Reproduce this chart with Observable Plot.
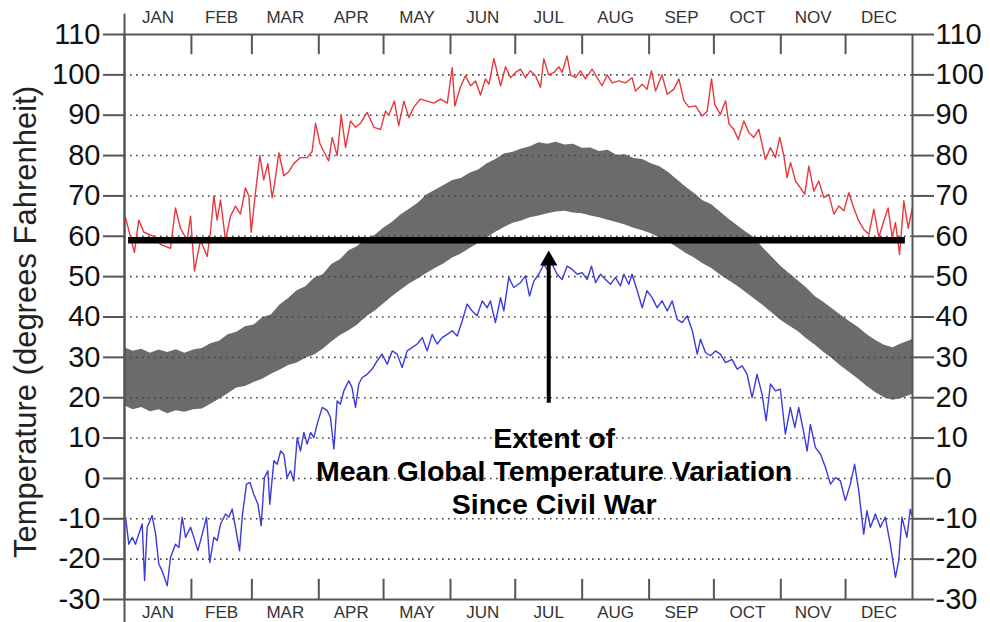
<!DOCTYPE html>
<html><head><meta charset="utf-8">
<script src="https://cdn.jsdelivr.net/npm/d3@7"></script>
<script src="https://cdn.jsdelivr.net/npm/@observablehq/plot@0.6"></script>
<style>body{margin:0;background:#fff}#chart svg{display:block}</style>
</head><body><div id="chart"></div>
<script>
const monthNames = ["JAN","FEB","MAR","APR","MAY","JUN","JUL","AUG","SEP","OCT","NOV","DEC"];
const monthStarts = [0,31,59,90,120,151,181,212,243,273,304,334,365];
const yTicks = [-30,-20,-10,0,10,20,30,40,50,60,70,80,90,100,110];
const gridTicks = [-20,-10,0,10,20,30,40,50,60,70,80,90,100];
const yTitle = "Temperature (degrees Fahrenheit)";
const annotation = "Extent of\nMean Global Temperature Variation\nSince Civil War";

// record daily highs [day of year, °F]
const recordHigh = [[0.5,64.6],[4.6,56],[6.6,64],[9,61],[13.6,60],[16.7,58],[21.3,57],[23.6,67],[25.9,62],[29,59],[30.6,65],[32.4,51.4],[35.2,59],[38.3,55],[39.8,61],[41.4,70],[42.9,64],[44.5,69],[46.8,59],[49.1,65],[51.4,67.5],[53.7,65.5],[56,72],[57.6,70],[58.7,61],[60.7,71],[62.7,80],[64.5,74],[66.4,78],[68.4,69.6],[69.5,73],[71.5,80.7],[73.8,75],[76.1,76],[78.4,78],[81.5,79.5],[84.6,79.5],[86.9,81],[88.5,88],[90.5,83],[92.3,81],[94.6,78.7],[96.2,84.5],[98.5,80],[100.4,90],[102.4,82],[104.7,88.6],[107,87],[109.3,88],[112.4,90.7],[115.5,87],[118.6,86.5],[120.9,91],[122.4,90],[125,93.5],[127,87.4],[129.4,93.5],[131.7,89.4],[134,92],[137.1,94],[140.2,93.5],[143.3,93],[146.4,94],[149.5,93],[151.8,101.8],[153,92.3],[155.6,97],[157.9,99.8],[160.3,97.3],[162.6,98.5],[164.9,95],[167.2,99],[168.8,97.7],[171.1,104],[174.2,97.3],[176.5,102],[178.8,99.3],[181.1,100.6],[183.4,101.4],[185.7,99.3],[188,101],[190.4,99.8],[192.7,96.9],[194.2,104],[196.5,100],[198.9,100.6],[201.2,102],[202.7,100.6],[205,104.7],[206.6,100],[208.9,99.3],[211.2,101],[213.5,99],[216.6,101.4],[218.9,99.3],[221.2,97.3],[223.6,100],[225.9,98],[229,98.5],[232,98],[235.1,99.3],[236.7,96],[239.8,97.7],[242,96.4],[244.1,101],[246,96],[249,100],[251.4,95.2],[254.4,96.4],[256.8,99],[259.1,93.6],[261.4,92],[264.5,92.3],[267.6,89.8],[269.9,91],[271.9,99],[273.4,92.7],[276,90.2],[278.4,93.6],[280,87.8],[282.2,86.5],[284.3,84],[286.9,88.6],[289.2,85.7],[291.5,84.5],[293.8,86.5],[296.9,79],[299.2,82],[301.5,79.5],[303.5,84.5],[305.4,80],[306.9,74.5],[308.5,78.3],[310.8,73.7],[313.1,72],[315.1,70.4],[317,77.4],[319.3,71.2],[321.6,73.7],[323.9,69.6],[326.2,70.4],[328.6,65.5],[330.9,67.5],[333.2,66.3],[335.5,70.8],[337.8,67],[340.1,63.8],[342.4,61.7],[344.8,60.5],[347.1,66.7],[349.4,59.7],[351.7,63.8],[353.7,67],[355.6,59.7],[357.1,63.4],[359,55.5],[361,68.8],[363,62],[364.9,67]];

// record daily lows [day of year, °F]
const recordLow = [[0.5,-9.6],[2,-16.3],[3.6,-14.6],[5.1,-16.3],[6.6,-13.8],[8.2,-11.3],[9.3,-25.3],[10.5,-12.1],[12.8,-9.2],[14.4,-13.8],[15.9,-21.2],[17.4,-22.9],[19.8,-26.6],[21.3,-19.6],[23.6,-16.3],[25.2,-17.1],[26.7,-9.6],[28.3,-14.6],[30.6,-12.1],[32.1,-14.6],[34,-17.9],[36,-13.8],[38,-9.6],[39.5,-20.8],[41.4,-14.6],[42.9,-15.4],[44.5,-11.3],[46.8,-8.8],[48.3,-9.6],[49.9,-7.6],[51.4,-12.1],[53.3,-17.9],[54.5,-9.6],[56.5,-1.4],[58.1,-1],[59.9,-3.9],[61.8,-6.4],[63.3,-11.7],[64.8,0.2],[66.4,1.9],[67.3,-6.4],[69.2,4.4],[70.7,3.5],[72.3,6.8],[73.8,6],[75.3,0.2],[76.9,1.9],[78.4,-0.6],[80,10.1],[81.5,6.8],[83.1,11.4],[84.6,8.5],[86.2,11.4],[87.7,10.1],[89.2,13.4],[91.6,17.6],[93.9,16.8],[95.4,15.1],[97,7.3],[98.5,19.2],[100,18.4],[101.6,21.7],[103.9,24.2],[105.4,22.5],[107,17.6],[108.5,23.4],[110.1,25],[112.4,25.8],[114.7,27.1],[117,29.1],[119.3,30.8],[121.7,28.3],[124,31.6],[126.3,30.8],[128.6,27.5],[130.9,31.6],[133.2,32.4],[135.6,33.3],[137.9,34.9],[140.2,31.6],[142.5,35.7],[144.8,33.3],[147.1,34.9],[149.5,35.7],[151.8,36.6],[154.1,35.3],[156.4,39],[158.7,43.2],[161,41.5],[163.3,40.3],[165.7,44],[168,42.3],[169.5,44],[171.8,38.6],[174.2,44.8],[175.7,41.5],[178,49.8],[180.3,47.3],[183.4,48.5],[185.7,50.2],[187.6,45.2],[189.6,48.9],[191.9,50.6],[194.2,53],[195.8,51.8],[197.3,53.9],[198.9,52.2],[200.4,50.6],[202.7,49.3],[205,52.6],[207.4,51.8],[209.7,50.6],[212,51],[214.3,49.3],[216.3,52.6],[218.2,48.5],[220.5,50.6],[222.8,49.3],[225.1,48.1],[227.4,49.8],[229.7,47.7],[231.3,50.6],[233.6,48.1],[235.1,50.6],[237.5,46.5],[239.8,42.3],[242,46.5],[244.4,44.8],[246.7,42.3],[249,44],[251.4,41.5],[253.7,44],[256,39.4],[258.3,38.6],[260.6,40.3],[263,36.6],[265.3,30.8],[266.8,34.5],[269.1,31.2],[271.4,30.4],[273.7,31.6],[276,30.8],[278.4,28.7],[281.4,29.5],[283.8,27.1],[286.1,27.9],[288.4,25.8],[290.7,20],[293,25.8],[295.3,20.9],[297.2,14.3],[299.2,23.4],[301.5,21.7],[303.8,22.1],[306.1,11],[308.4,17.6],[310.5,12.6],[312.3,17.6],[314.6,11.4],[316.2,6.8],[317.7,13.4],[320,7.7],[322.4,6],[324.7,2.7],[327,-1.4],[329.3,0.2],[331.6,-0.6],[333.9,-5.5],[336.2,-1.4],[338.2,3.5],[340.1,-3.1],[342.4,-13.8],[343.9,-8],[345.5,-12.1],[347.8,-8.8],[350.1,-12.1],[352.4,-9.6],[354.7,-16.3],[357.1,-24.5],[358.6,-20.4],[360.1,-9.6],[362.4,-14.6],[364,-7.6],[365,-9.6]];

// grey band (normal range), every 4 days
const bandDays = [0,4,8,12,16,20,24,28,32,36,40,44,48,52,56,60,64,68,72,76,80,84,88,92,96,100,104,108,112,116,120,124,128,132,136,140,144,148,152,156,160,164,168,172,176,180,184,188,192,196,200,204,208,212,216,220,224,228,232,236,240,244,248,252,256,260,264,268,272,276,280,284,288,292,296,300,304,308,312,316,320,324,328,332,336,340,344,348,352,356,360,364,365];
const bandHigh = [32.4,31.5,32.0,31.0,31.8,31.2,31.9,31.0,31.8,32.2,33.4,34.0,35.6,36.2,37.6,38.0,39.8,40.5,43.0,44.6,46.5,47.5,49.6,50.5,53.0,54.2,56.4,57.5,59.4,60.2,62.0,63.4,65.3,66.7,68.2,70.2,71.4,72.6,73.8,74.3,75.6,76.4,78.0,79.0,80.4,80.8,81.6,82.2,83.2,82.8,83.3,82.6,82.8,81.8,81.9,81.0,81.3,80.1,80.2,79.3,79.0,78.0,77.2,75.8,74.0,72.2,70.6,68.8,67.8,66.0,64.2,62.6,61.0,59.6,57.0,54.8,52.6,50.8,49.0,47.2,45.0,43.6,42.0,40.4,38.8,37.4,35.6,34.2,33.0,32.4,33.4,34.2,34.5];
const bandLow = [18.0,17.0,17.6,16.5,17.0,16.0,16.8,16.4,17.0,17.2,18.4,19.6,21.0,22.4,22.8,23.8,24.6,25.8,26.8,28.0,28.6,29.8,30.6,32.0,33.8,35.4,36.6,38.0,40.0,41.4,43.2,45.0,46.6,48.2,49.4,50.8,52.0,53.2,54.6,55.6,57.0,58.2,59.6,61.0,62.2,63.2,63.8,64.6,65.0,65.6,66.0,66.2,65.8,65.6,65.0,64.6,64.0,63.4,62.8,62.0,61.4,60.6,59.6,58.6,57.2,55.8,54.6,53.2,52.0,50.4,49.0,47.6,46.0,44.4,42.8,41.0,39.2,37.8,36.4,34.6,33.0,31.2,29.6,27.8,26.2,24.6,22.8,21.2,20.0,19.4,19.8,20.6,20.8];

const band = bandDays.map((d, i) => ({day: d, lo: bandLow[i], hi: bandHigh[i]}));
const highs = recordHigh.map(([day, t]) => ({day, t}));
const lows = recordLow.map(([day, t]) => ({day, t}));
const months = monthNames.map((m, i) => ({m, mid: (monthStarts[i] + monthStarts[i + 1]) / 2}));
const inner = monthStarts.slice(1, -1);

const axisGrey = "#555";
const chart = Plot.plot({
  width: 990, height: 622,
  marginLeft: 124, marginRight: 78, marginTop: 34, marginBottom: 23,
  style: {fontFamily: "'Liberation Sans', Arial, sans-serif", background: "#fff"},
  x: {domain: [0, 365], axis: null},
  y: {domain: [-30, 110], axis: null},
  marks: [
    Plot.areaY(band, {x: "day", y1: "lo", y2: "hi", fill: "#6b6b6b"}),
    Plot.ruleY(gridTicks, {stroke: "#444", strokeWidth: 1.6, strokeDasharray: "1.6,4.4"}),
    Plot.line(highs, {x: "day", y: "t", stroke: "#e8383d", strokeWidth: 1.4}),
    Plot.line(lows, {x: "day", y: "t", stroke: "#3b3bdc", strokeWidth: 1.4}),
    Plot.ruleY([59], {x1: 1.9, x2: 361.7, stroke: "#000", strokeWidth: 6.5}),
    Plot.ruleX([196.5], {y1: 18.6, y2: 53, stroke: "#000", strokeWidth: 4}),
    Plot.dot([196.5], {x: d => d, y: () => 54, symbol: "triangle", r: 6.4, fill: "#000", stroke: null}),
    Plot.text([annotation], {x: () => 199, y: () => 2, text: d => d, fontSize: 28.5, fontWeight: "bold", lineHeight: 1.16, fill: "#000"}),
    Plot.frame({stroke: axisGrey, strokeWidth: 2}),
    Plot.ruleX([0], {y1: -35.8, y2: 115, stroke: axisGrey, strokeWidth: 2}),
    Plot.ruleX(inner, {y1: 110, y2: 105, stroke: axisGrey, strokeWidth: 2}),
    Plot.ruleX(inner, {y1: -30, y2: -25, stroke: axisGrey, strokeWidth: 2}),
    Plot.text(months, {x: "mid", y: () => 110, dy: -17, text: "m", fontSize: 17, fill: "#333"}),
    Plot.text(months, {x: "mid", y: () => -30, dy: 13, text: "m", fontSize: 17, fill: "#333"}),
    Plot.axisY(yTicks, {anchor: "left", tickSize: 21, tickPadding: 3, fontSize: 29, stroke: axisGrey, strokeWidth: 2, fill: "#111", label: null, tickFormat: d => String(d)}),
    Plot.axisY(yTicks, {anchor: "right", tickSize: 21, tickPadding: 2, fontSize: 29, stroke: axisGrey, strokeWidth: 2, fill: "#111", label: null, tickFormat: d => String(d)}),
    Plot.text([yTitle], {frameAnchor: "left", textAnchor: "middle", dx: -98, dy: 5, rotate: -90, text: d => d, fontSize: 31, fill: "#222"})
  ]
});
document.getElementById("chart").appendChild(chart);
</script>
</body></html>
